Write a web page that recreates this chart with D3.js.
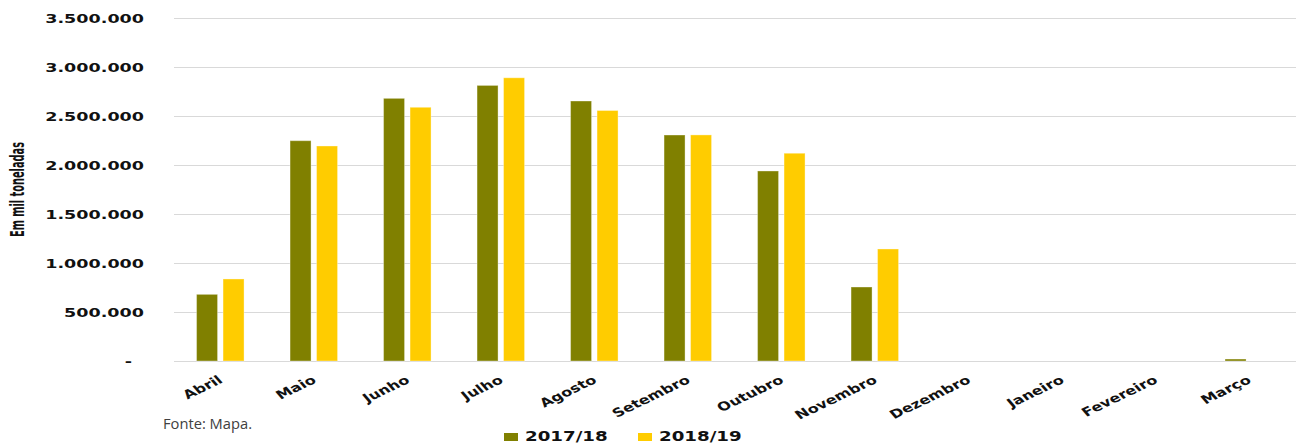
<!DOCTYPE html>
<html>
<head>
<meta charset="utf-8">
<script src="https://cdn.jsdelivr.net/npm/d3@7"></script>
<style>
  html, body { margin: 0; padding: 0; background: #fff; }
  svg { display: block; }
</style>
</head>
<body>
<svg id="chart" width="1300" height="446"></svg>
<script>
const months = ["Abril","Maio","Junho","Julho","Agosto","Setembro","Outubro","Novembro","Dezembro","Janeiro","Fevereiro","Março"];
const seriesNames = ["2017/18","2018/19"];
const values2017 = [680000, 2248000, 2680000, 2812000, 2653000, 2306000, 1939000, 755000, 0, 0, 0, 20000];
const values2018 = [837000, 2194000, 2589000, 2890000, 2556000, 2307000, 2120000, 1143000, 0, 0, 0, 0];
const yTicks = [0, 500000, 1000000, 1500000, 2000000, 2500000, 3000000, 3500000];
const yTickLabels = ["-", "500.000", "1.000.000", "1.500.000", "2.000.000", "2.500.000", "3.000.000", "3.500.000"];
const colors = ["#808000", "#FFCC00"];
const yTitle = "Em mil toneladas";
const source = "Fonte: Mapa.";

(function () {
const svg = d3.select("#chart");
const mLeft = 174, mRight = 1296, mTop = 18, mBottom = 361;
const SX = 1.35;

const x = d3.scaleBand().domain(months).range([mLeft, mRight]).paddingInner(0).paddingOuter(0);
const x1 = d3.scaleBand().domain(seriesNames).range([-24.2, 23.3]).paddingInner(0.2075).paddingOuter(0);
const y = d3.scaleLinear().domain([0, 3500000]).range([mBottom, mTop]);

// gridlines + y labels via axis
const yAxis = d3.axisLeft(y).tickValues(yTicks).tickSize(-(mRight - mLeft)).tickFormat((d, i) => yTickLabels[i]);
const gy = svg.append("g").attr("transform", `translate(${mLeft},0)`).call(yAxis);
gy.select(".domain").remove();
gy.selectAll(".tick line").attr("stroke", "#d9d9d9").attr("stroke-width", 1);
gy.selectAll(".tick text")
  .attr("font-family", "'DejaVu Sans', Verdana, sans-serif")
  .attr("font-weight", "bold")
  .attr("font-size", 13)
  .attr("fill", "#111")
  .attr("x", (d) => (d === 0 ? -42 : -30) / SX)
  .attr("dy", "0.36em")
  .attr("transform", `scale(${SX},1)`);

// bars
const data = months.map((m, i) => ({ month: m, vals: [values2017[i], values2018[i]] }));
const groups = svg.append("g").selectAll("g").data(data).join("g")
  .attr("transform", d => `translate(${x(d.month) + x.bandwidth() / 2},0)`);
groups.selectAll("rect").data(d => d.vals.map((v, k) => ({ k, v })).filter(e => e.v > 0)).join("rect")
  .attr("x", e => x1(seriesNames[e.k]))
  .attr("width", x1.bandwidth())
  .attr("y", e => y(e.v))
  .attr("height", e => y(0) - y(e.v))
  .attr("fill", e => colors[e.k])
  .attr("stroke", "rgba(255,255,255,0.35)")
  .attr("stroke-width", 1);

// x labels via axis
const xAxis = d3.axisBottom(x).tickSize(0);
const gx = svg.append("g").attr("transform", `translate(0,${mBottom})`).call(xAxis);
gx.select(".domain").remove();
gx.selectAll(".tick text")
  .attr("font-family", "'DejaVu Sans', Verdana, sans-serif")
  .attr("font-weight", "bold")
  .attr("font-size", 12)
  .attr("fill", "#111")
  .attr("text-anchor", "end")
  .attr("x", 0).attr("y", 0).attr("dy", 0)
  .attr("transform", `translate(3,21) scale(${SX},1) rotate(-33)`);

// y title
svg.append("text")
  .attr("transform", `translate(24,189.5) scale(${SX},1) rotate(-90)`)
  .attr("text-anchor", "middle")
  .attr("font-family", "'Liberation Sans Narrow', 'DejaVu Sans Condensed', 'Liberation Sans', sans-serif")
  .attr("font-weight", "bold")
  .attr("font-size", 14.5)
  .attr("textLength", 95)
  .attr("lengthAdjust", "spacingAndGlyphs")
  .attr("fill", "#111")
  .text(yTitle);

// source
svg.append("text")
  .attr("x", 163).attr("y", 429)
  .attr("font-family", "'Open Sans', 'Noto Sans', sans-serif")
  .attr("font-size", 14)
  .attr("textLength", 89)
  .attr("lengthAdjust", "spacingAndGlyphs")
  .attr("fill", "#404040")
  .text(source);

// legend
const legendX = [504, 638];
const lg = svg.append("g").selectAll("g").data(seriesNames).join("g");
lg.append("rect")
  .attr("x", (d, i) => legendX[i]).attr("y", 433)
  .attr("width", 14).attr("height", 8)
  .attr("fill", (d, i) => colors[i]);
lg.append("text")
  .attr("transform", (d, i) => `translate(${legendX[i] + 21},441) scale(${SX},1)`)
  .attr("font-family", "'DejaVu Sans', Verdana, sans-serif")
  .attr("font-weight", "bold")
  .attr("font-size", 13.5)
  .attr("fill", "#111")
  .text(d => d);
})();
</script>
</body>
</html>
